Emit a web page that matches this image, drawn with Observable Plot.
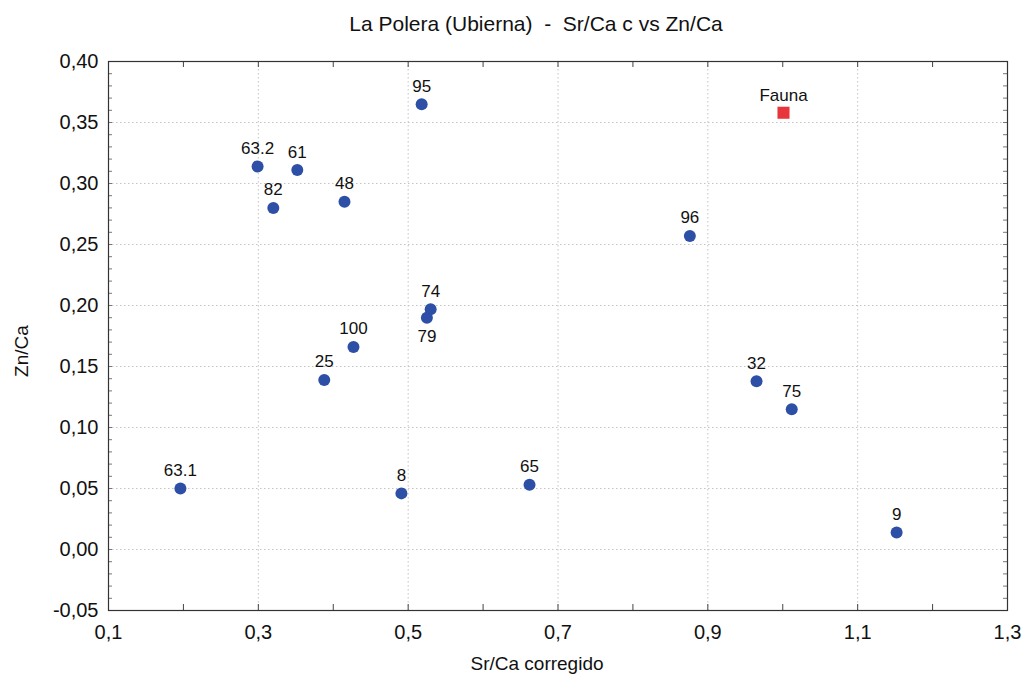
<!DOCTYPE html>
<html><head><meta charset="utf-8">
<script src="https://cdn.jsdelivr.net/npm/d3@7"></script>
<script src="https://cdn.jsdelivr.net/npm/@observablehq/plot@0.6"></script>
<style>
body{margin:0;background:#fff;font-family:"Liberation Sans",Arial,sans-serif;overflow:hidden;}
#title{width:1022px;height:40px;box-sizing:border-box;padding-top:8px;padding-left:50px;line-height:32px;font-size:21px;color:#111;white-space:pre;text-align:center;}
</style></head><body>
<div id="title">La Polera (Ubierna)  -  Sr/Ca c vs Zn/Ca</div>
<div id="chart"></div>
<script>
const sampleLabels = ["63.1","63.2","61","82","48","95","96","74","79","100","25","32","75","8","65","9"];
const srCa = [0.196,0.299,0.352,0.320,0.415,0.518,0.876,0.530,0.525,0.427,0.388,0.965,1.012,0.491,0.662,1.152];
const znCa = [0.050,0.314,0.311,0.280,0.285,0.365,0.257,0.197,0.190,0.166,0.139,0.138,0.115,0.046,0.053,0.014];
const faunaLabel = ["Fauna"];
const faunaSrCa = [1.001];
const faunaZnCa = [0.358];
const xTickValues = [0.1,0.3,0.5,0.7,0.9,1.1,1.3];
const yTickValues = [-0.05,0,0.05,0.10,0.15,0.20,0.25,0.30,0.35,0.40];
const xMinorTicks = [0.2,0.3,0.4,0.5,0.6,0.7,0.8,0.9,1.0,1.1,1.2];
const yMinorTicks = d3.range(-4,40).map(i => i/100);
const xLabel = "Sr/Ca corregido";
const yLabel = "Zn/Ca";
const labelsBelow = ["79"];

const W = 1022, H = 637, ML = 108, MR = 15, MT = 21, MB = 67;
const frameW = W - ML - MR, frameH = H - MT - MB;

const samples = sampleLabels.map((label,i) => ({label, x: srCa[i], y: znCa[i]}));
const fauna = faunaLabel.map((label,i) => ({label, x: faunaSrCa[i], y: faunaZnCa[i]}));
const fmt = f => v => d3.format(f)(v).replace(".", ",").replace("\u2212", "-");
const grid = {stroke:"#c4c4c4", strokeOpacity:1, strokeDasharray:"1.5,2.5", strokeWidth:1};

const chart = Plot.plot({
  width: W, height: H,
  marginLeft: ML, marginRight: MR, marginTop: MT, marginBottom: MB,
  x: {domain: [0.1, 1.3]},
  y: {domain: [-0.05, 0.40]},
  style: {fontFamily: '"Liberation Sans", Arial, sans-serif', color: "#111", background: "#fff"},
  marks: [
    Plot.gridX(xTickValues.slice(1, -1), grid),
    Plot.gridY(yTickValues.slice(1, -1), grid),
    Plot.tickX(xMinorTicks, {x: d => d, insetTop: frameH - 6, stroke: "#444"}),
    Plot.tickX(xMinorTicks, {x: d => d, insetBottom: frameH - 6, stroke: "#444"}),
    Plot.tickY(yMinorTicks, {y: d => d, insetRight: frameW - 4, stroke: "#777"}),
    Plot.tickY(yMinorTicks, {y: d => d, insetLeft: frameW - 4, stroke: "#777"}),
    Plot.axisX(xTickValues, {anchor: "bottom", tickSize: 0, tickPadding: 14, tickFormat: fmt(".1f"), fontSize: 20, label: null, fill: "#111"}),
    Plot.axisY(yTickValues, {anchor: "left", tickSize: 0, tickPadding: 10, tickFormat: fmt(".2f"), fontSize: 20, label: null, fill: "#111"}),
    Plot.frame({stroke: "#333", strokeWidth: 1.2}),
    Plot.dot(samples, {x: "x", y: "y", r: 6, fill: "#2d4fa5", stroke: null}),
    Plot.dot(fauna, {x: "x", y: "y", symbol: "square", r: 6.8, fill: "#e8353b", stroke: null}),
    Plot.text(samples.filter(d => !labelsBelow.includes(d.label)), {x: "x", y: "y", text: "label", dy: -18, fontSize: 17, fill: "#111"}),
    Plot.text(samples.filter(d => labelsBelow.includes(d.label)), {x: "x", y: "y", text: "label", dy: 19, fontSize: 17, fill: "#111"}),
    Plot.text(fauna, {x: "x", y: "y", text: "label", dy: -17, fontSize: 17, fill: "#111"}),
    Plot.text([xLabel], {frameAnchor: "bottom", textAnchor: "middle", lineAnchor: "middle", text: d => d, dx: -21, dy: 53, fontSize: 19, fill: "#111"}),
    Plot.text([yLabel], {frameAnchor: "left", textAnchor: "middle", lineAnchor: "middle", text: d => d, dx: -87, dy: 15, rotate: -90, fontSize: 19, fill: "#111"})
  ]
});
document.getElementById("chart").appendChild(chart);
</script>
</body></html>
